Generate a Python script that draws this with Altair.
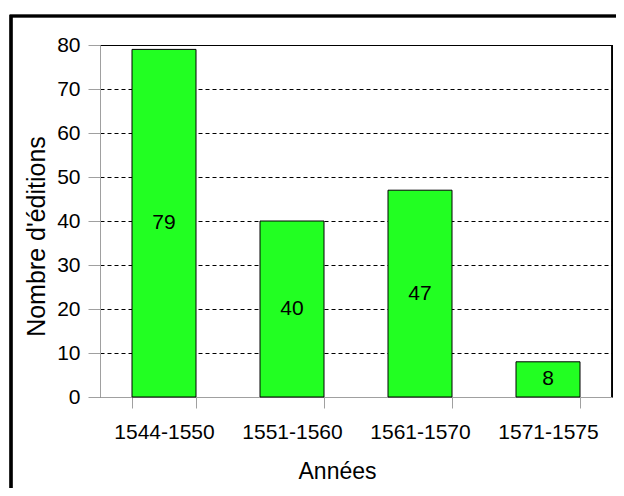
import altair as alt
import pandas as pd

categories = ["1544-1550", "1551-1560", "1561-1570", "1571-1575"]
values = [79, 40, 47, 8]

df = pd.DataFrame({"periode": categories, "editions": values})

FONT = "Liberation Sans"

x_enc = alt.X(
    "periode:N",
    sort=categories,
    scale=alt.Scale(paddingInner=0.5, paddingOuter=0.25),
    axis=alt.Axis(
        title="Années",
        labelAngle=0,
        tickBand="extent",
        tickSize=11,
        labelPadding=13,
        titleX=237,
        titleY=81,
        titleAlign="center",
        titleBaseline="alphabetic",
        domainColor="#a0a0a0",
        tickColor="#a0a0a0",
        labelFontSize=21,
        titleFontSize=23,
        labelFont=FONT,
        titleFont=FONT,
        titleFontWeight="normal",
        labelColor="black",
        titleColor="black",
        grid=False,
    ),
)

y_enc = alt.Y(
    "editions:Q",
    scale=alt.Scale(domain=[0, 80], nice=False),
    axis=alt.Axis(
        title="Nombre d'éditions",
        values=[0, 10, 20, 30, 40, 50, 60, 70, 80],
        tickSize=12,
        labelPadding=8,
        titleX=-64,
        titleY=191,
        titleAlign="center",
        titleBaseline="middle",
        titleAngle=270,
        domainColor="#a0a0a0",
        tickColor="#a0a0a0",
        grid=True,
        gridColor="black",
        gridDash=[4, 3],
        gridWidth=1,
        labelFontSize=21,
        titleFontSize=25,
        labelFont=FONT,
        titleFont=FONT,
        titleFontWeight="normal",
        labelColor="black",
        titleColor="black",
    ),
)

frame = alt.Chart(df).mark_rect(
    filled=False, fillOpacity=0, stroke="black", strokeWidth=2.7
).encode(
    x=alt.value(-89), x2=alt.value(640), y=alt.value(-29), y2=alt.value(520)
)

right_edge = alt.Chart(df).mark_rule(color="black", strokeWidth=1).encode(
    x=alt.value(512), y=alt.value(0), y2=alt.value(352)
)

bars = alt.Chart(df).mark_bar(
    color="#22ff22", stroke="black", strokeWidth=1
).encode(x=x_enc, y=y_enc)

labels = alt.Chart(df).transform_calculate(
    mid="datum.editions / 2"
).mark_text(
    font=FONT, fontSize=21, color="black", baseline="middle"
).encode(
    x=alt.X("periode:N", sort=categories),
    y=alt.Y("mid:Q"),
    text="editions:Q",
)

chart = alt.layer(frame, right_edge, bars, labels).properties(
    width=512,
    height=352,
    autosize=alt.AutoSizeParams(type="none"),
    padding={"left": 92, "top": 37, "right": 4, "bottom": 91},
).configure_view(
    stroke="black", strokeWidth=1
)

chart.save("out.html", embed_options={"renderer": "svg", "actions": False})
